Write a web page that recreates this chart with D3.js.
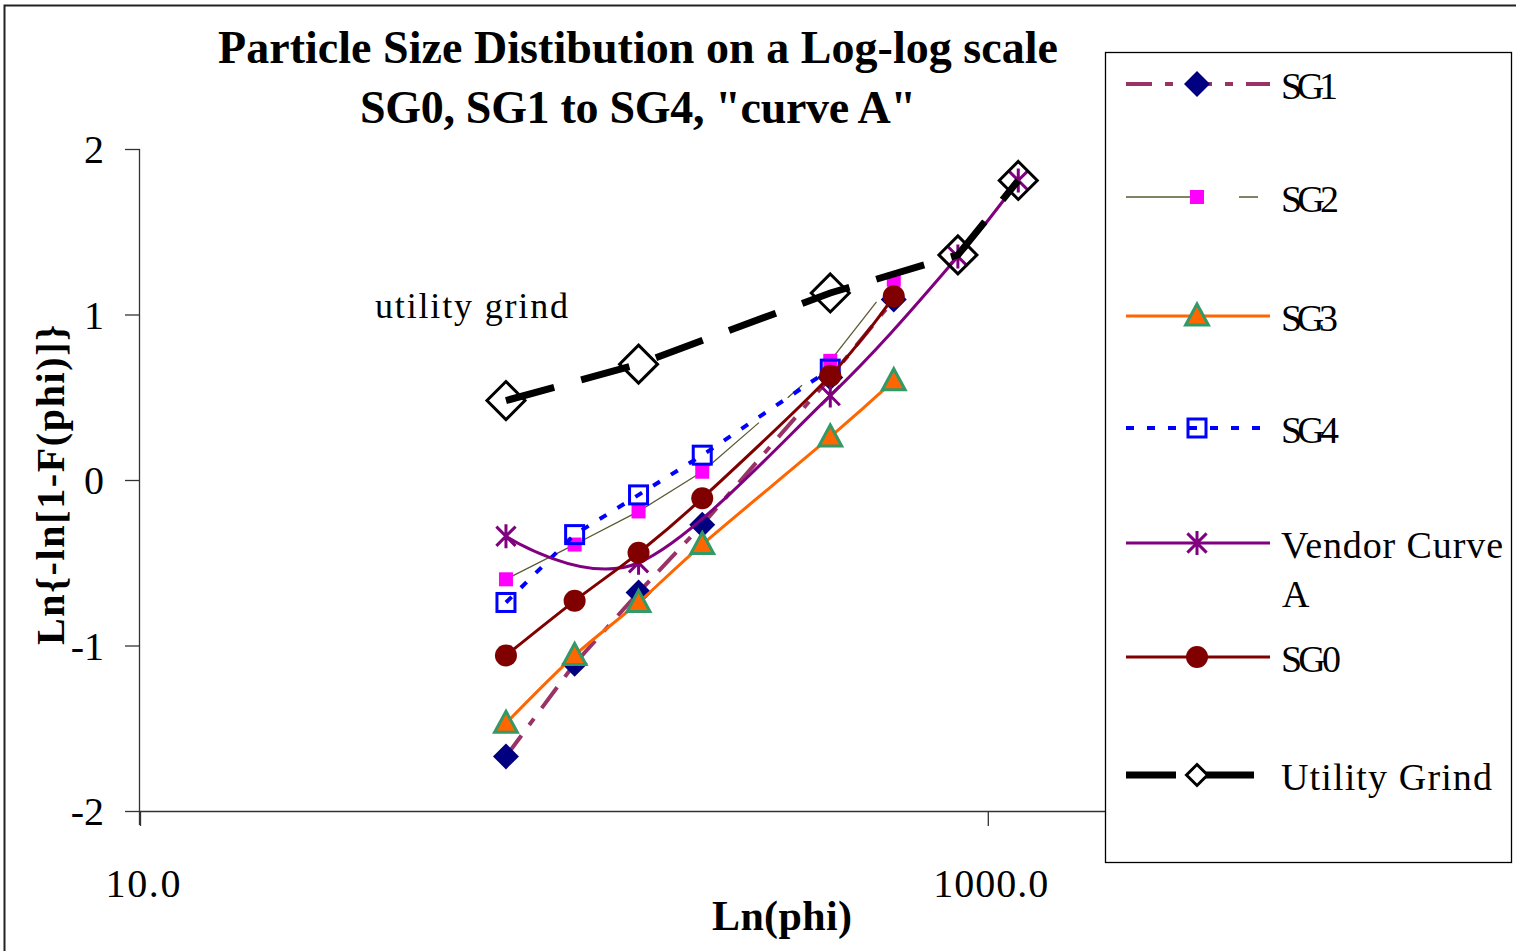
<!DOCTYPE html>
<html>
<head>
<meta charset="utf-8">
<script src="https://cdn.jsdelivr.net/npm/d3@7"></script>
<style>
  body { margin: 0; background: #fff; }
  text { font-family: "Liberation Serif", "Times New Roman", serif; fill: #000; }
</style>
</head>
<body>
<svg width="1516" height="951"></svg>
<script>
// sieve sizes (x) and the series
var sizes = [73, 106, 150, 212, 425, 600, 850, 1180];
var curveSizes = [73, 150, 425, 850, 1180];

var sg1 = [-1.67, -1.11, -0.68, -0.27, 0.62, 1.09];
var sg2 = [-0.60, -0.39, -0.19, 0.05, 0.72, 1.21];
var sg3 = [-1.47, -1.06, -0.74, -0.39, 0.26, 0.60];
var sg4 = [-0.74, -0.33, -0.09, 0.15, 0.67];
var vendorA = [-0.34, -0.50, 0.51, 1.35, 1.81];
var sg0 = [-1.06, -0.73, -0.44, -0.11, 0.63, 1.11];
var utility = [0.48, 0.70, 1.13, 1.36, 1.81];

var yTicks = [-2, -1, 0, 1, 2];
var xTicks = [10, 1000];

var svg = d3.select("svg");

// outer chart frame
svg.append("rect").attr("x", 4.5).attr("y", 5.5).attr("width", 1540).attr("height", 970)
  .attr("fill", "#fff").attr("stroke", "#222").attr("stroke-width", 2);

var x = d3.scaleLog().domain([10, 1890]).range([140, 1105]),
    y = d3.scaleLinear().domain([-2, 2]).range([811, 149]);

function pts(xs, ys) {
  return ys.map(function(v, i) { return {x: xs[i], y: v}; });
}

// marker shapes
function marker(sel, type, s) {
  if (type == "diamond") {
    sel.append("path").attr("d", "M0," + -s + "L" + s + ",0L0," + s + "L" + -s + ",0Z");
  } else if (type == "square") {
    sel.append("rect").attr("x", -s).attr("y", -s).attr("width", 2 * s).attr("height", 2 * s);
  } else if (type == "triangle") {
    sel.append("path").attr("d", "M0," + -s + "L" + s * 0.95 + "," + s * 0.75 + "L" + -s * 0.95 + "," + s * 0.75 + "Z");
  } else if (type == "circle") {
    sel.append("circle").attr("r", s);
  } else if (type == "star") {
    var d = s * 0.8;
    sel.append("path").attr("d", "M0," + -s + "V" + s + "M" + -d + "," + -d + "L" + d + "," + d + "M" + d + "," + -d + "L" + -d + "," + d);
  }
}

var series = [
  {name: "SG1", xs: sizes, ys: sg1, stroke: "#993366", width: 4, dash: "26,13,8,13", smooth: false,
   m: "diamond", ms: 13, mfill: "#000080", mstroke: "none", msw: 0},
  {name: "SG2", xs: sizes, ys: sg2, stroke: "#5a5a32", width: 1.3, dash: "75,38,19,38", smooth: false, perSegment: true,
   m: "square", ms: 7, mfill: "#ff00ff", mstroke: "none", msw: 0},
  {name: "SG3", xs: sizes, ys: sg3, stroke: "#ff6600", width: 3, dash: null, smooth: true,
   m: "triangle", ms: 12, mfill: "#ff6600", mstroke: "#339966", msw: 3},
  {name: "SG4", xs: sizes, ys: sg4, stroke: "#0000ff", width: 4, dash: "8,13", smooth: false,
   m: "square", ms: 9, mfill: "none", mstroke: "#0000ff", msw: 3},
  {name: "Vendor Curve", name2: "A", xs: curveSizes, ys: vendorA, stroke: "#800080", width: 3, dash: null, smooth: true,
   m: "star", ms: 12, mfill: "none", mstroke: "#800080", msw: 3},
  {name: "SG0", xs: sizes, ys: sg0, stroke: "#800000", width: 3, dash: null, smooth: true,
   m: "circle", ms: 11, mfill: "#800000", mstroke: "none", msw: 0},
  {name: "Utility Grind", xs: curveSizes, ys: utility, stroke: "#000", width: 7, dash: "50,28", smooth: false,
   m: "diamond", ms: 19, lms: 10.5, mfill: "none", mstroke: "#000", msw: 3}
];

// axes
var axG = svg.append("g");
axG.append("line").attr("x1", 139.5).attr("x2", 139.5).attr("y1", 149).attr("y2", 825).attr("stroke", "#333").attr("stroke-width", 1.3);
axG.append("line").attr("x1", 139).attr("x2", 1105).attr("y1", 811.5).attr("y2", 811.5).attr("stroke", "#333").attr("stroke-width", 1.3);

axG.selectAll(".ytick").data(yTicks).enter().append("line")
  .attr("x1", 125).attr("x2", 140)
  .attr("y1", function(d) { return y(d) + 0.5; }).attr("y2", function(d) { return y(d) + 0.5; })
  .attr("stroke", "#333").attr("stroke-width", 1.3);
axG.selectAll(".ylab").data(yTicks).enter().append("text")
  .attr("x", 104).attr("y", function(d) { return y(d) + 14; })
  .attr("text-anchor", "end").style("font-size", "40px")
  .text(function(d) { return d; });

axG.selectAll(".xtick").data(xTicks).enter().append("line")
  .attr("x1", function(d) { return x(d) + 0.5; }).attr("x2", function(d) { return x(d) + 0.5; })
  .attr("y1", 811).attr("y2", 826)
  .attr("stroke", "#333").attr("stroke-width", 1.3);
axG.selectAll(".xlab").data(xTicks).enter().append("text")
  .attr("x", function(d) { return x(d) + 3; }).attr("y", 897)
  .attr("text-anchor", "middle").style("font-size", "40px")
  .attr("textLength", function(d) { return d == 10 ? 75 : 115; })
  .text(function(d) { return d3.format(".1f")(d); });

// lines and markers
var line = d3.line().x(function(d) { return x(d.x); }).y(function(d) { return y(d.y); });
var smoothLine = d3.line().x(function(d) { return x(d.x); }).y(function(d) { return y(d.y); })
  .curve(d3.curveCardinal.tension(0));

series.forEach(function(s) {
  var data = pts(s.xs, s.ys);
  var g = svg.append("g");
  var paths = [];
  if (s.perSegment) {
    for (var i = 0; i < data.length - 1; i++) paths.push([data[i], data[i + 1]]);
  } else {
    paths.push(data);
  }
  paths.forEach(function(p) {
    g.append("path")
      .attr("d", s.smooth ? smoothLine(p) : line(p))
      .attr("fill", "none")
      .attr("stroke", s.stroke)
      .attr("stroke-width", s.width)
      .attr("stroke-dasharray", s.dash);
  });
  g.selectAll(".mk").data(data).enter().append("g")
    .attr("transform", function(d) { return "translate(" + x(d.x) + "," + y(d.y) + ")"; })
    .each(function() { marker(d3.select(this), s.m, s.ms); })
    .selectAll("*")
    .attr("fill", s.mfill).attr("stroke", s.mstroke).attr("stroke-width", s.msw);
});

// annotation
svg.append("text").attr("x", 375).attr("y", 318).style("font-size", "36px")
  .attr("textLength", 193).text("utility grind");

// titles
svg.append("text").attr("x", 638).attr("y", 63).attr("text-anchor", "middle")
  .style("font-size", "46px").style("font-weight", "bold")
  .attr("textLength", 840).text("Particle Size Distibution on a Log-log scale");
svg.append("text").attr("x", 638).attr("y", 123).attr("text-anchor", "middle")
  .style("font-size", "46px").style("font-weight", "bold")
  .attr("textLength", 556).text("SG0, SG1 to SG4, \"curve A\"");
svg.append("text").attr("x", 782).attr("y", 930).attr("text-anchor", "middle")
  .style("font-size", "42px").style("font-weight", "bold")
  .attr("textLength", 140).text("Ln(phi)");
svg.append("text").attr("transform", "translate(64,485) rotate(-90)").attr("text-anchor", "middle")
  .style("font-size", "40px").style("font-weight", "bold")
  .attr("textLength", 320).text("Ln{-ln[1-F(phi)]}");

// legend
var legY = [84, 197, 316, 428, 543, 657, 775];
var legW = [57, 58, 57, 58, 222, 60, 211];
var leg = svg.append("g");
leg.append("rect").attr("x", 1105.5).attr("y", 52.5).attr("width", 406).attr("height", 810)
  .attr("fill", "#fff").attr("stroke", "#000").attr("stroke-width", 1.3);

series.forEach(function(s, i) {
  var ly = legY[i];
  var lg = leg.append("g");
  lg.append("line").attr("x1", 1126).attr("x2", 1270).attr("y1", ly).attr("y2", ly)
    .attr("stroke", s.stroke).attr("stroke-width", s.width).attr("stroke-dasharray", s.dash);
  var mg = lg.append("g").attr("transform", "translate(1197," + ly + ")");
  marker(mg, s.m, s.lms || s.ms);
  mg.selectAll("*").attr("fill", s.mfill == "none" && s.m == "diamond" ? "#fff" : s.mfill)
    .attr("stroke", s.mstroke).attr("stroke-width", s.msw);
  lg.append("text").attr("x", 1281).attr("y", ly + 15).style("font-size", "38px")
    .attr("textLength", legW[i]).text(s.name);
  if (s.name2) {
    lg.append("text").attr("x", 1282).attr("y", ly + 64).style("font-size", "38px").text(s.name2);
  }
});
</script>
</body>
</html>
